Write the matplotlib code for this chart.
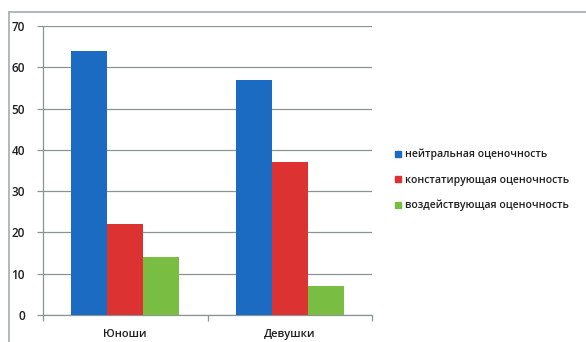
import matplotlib.pyplot as plt
import numpy as np
from matplotlib.lines import Line2D

plt.rcParams['font.family'] = ['Open Sans', 'DejaVu Sans']

groups = ["Юноши", "Девушки"]
series_names = ["нейтральная оценочность", "констатирующая оценочность", "воздействующая оценочность"]
neutral = [64, 57]
stating = [22, 37]
influencing = [14, 7]
colors = ["#1a6bc1", "#dd3232", "#79bd43"]

fig = plt.figure(figsize=(5.86, 3.42), dpi=100)
W, H = 586, 342
ax = fig.add_axes([43 / W, 1 - 315 / H, (372 - 43) / W, (315 - 26) / H])

x = np.arange(len(groups))
width = 0.218
for i, (vals, c, name) in enumerate(zip([neutral, stating, influencing], colors, series_names)):
    ax.bar(x + (i - 1) * width, vals, width, color=c, label=name, zorder=3)

grid_c = "#8a9494"
text_c = "#1e1e1e"
ax.set_xlim(-0.5, 1.5)
ax.set_ylim(0, 70)
ax.set_yticks(range(0, 71, 10))
ax.yaxis.grid(True, color=grid_c, linewidth=0.9, zorder=0)
ax.set_xticks([-0.5, 0.5, 1.5])
ax.set_xticklabels([])
ax.set_xticks(x, minor=True)
ax.set_xticklabels(groups, minor=True, fontsize=8, color=text_c, fontweight="semibold")
ax.tick_params(axis="x", which="minor", length=0, pad=10)
ax.tick_params(axis="x", which="major", length=4, color=grid_c, width=0.9)
ax.tick_params(axis="y", length=4, color=grid_c, width=0.9, labelsize=8.5, labelcolor=text_c, pad=9)
for lbl in ax.get_yticklabels():
    lbl.set_fontweight("semibold")
for s in ["top", "right"]:
    ax.spines[s].set_visible(False)
for s in ["left", "bottom"]:
    ax.spines[s].set_color(grid_c)
    ax.spines[s].set_linewidth(0.9)

handles = [Line2D([], [], marker="s", linestyle="", markersize=5, color=c) for c in colors]
fig.legend(handles, series_names, loc="center left", bbox_to_anchor=(382 / W, 1 - 180 / H),
           frameon=False, handletextpad=0.1, labelspacing=1.35,
           handlelength=1.2, labelcolor=text_c, prop={"weight": "semibold", "size": 7.6})

# outer frame: top and left edges
border_c = "#a9b3b3"
fig.add_artist(Line2D([9 / W, 1], [1 - 11.5 / H, 1 - 11.5 / H], color=border_c, linewidth=1.3))
fig.add_artist(Line2D([9 / W, 9 / W], [0, 1 - 11.5 / H], color=border_c, linewidth=1.3))

fig.savefig("out.png", dpi=100)
